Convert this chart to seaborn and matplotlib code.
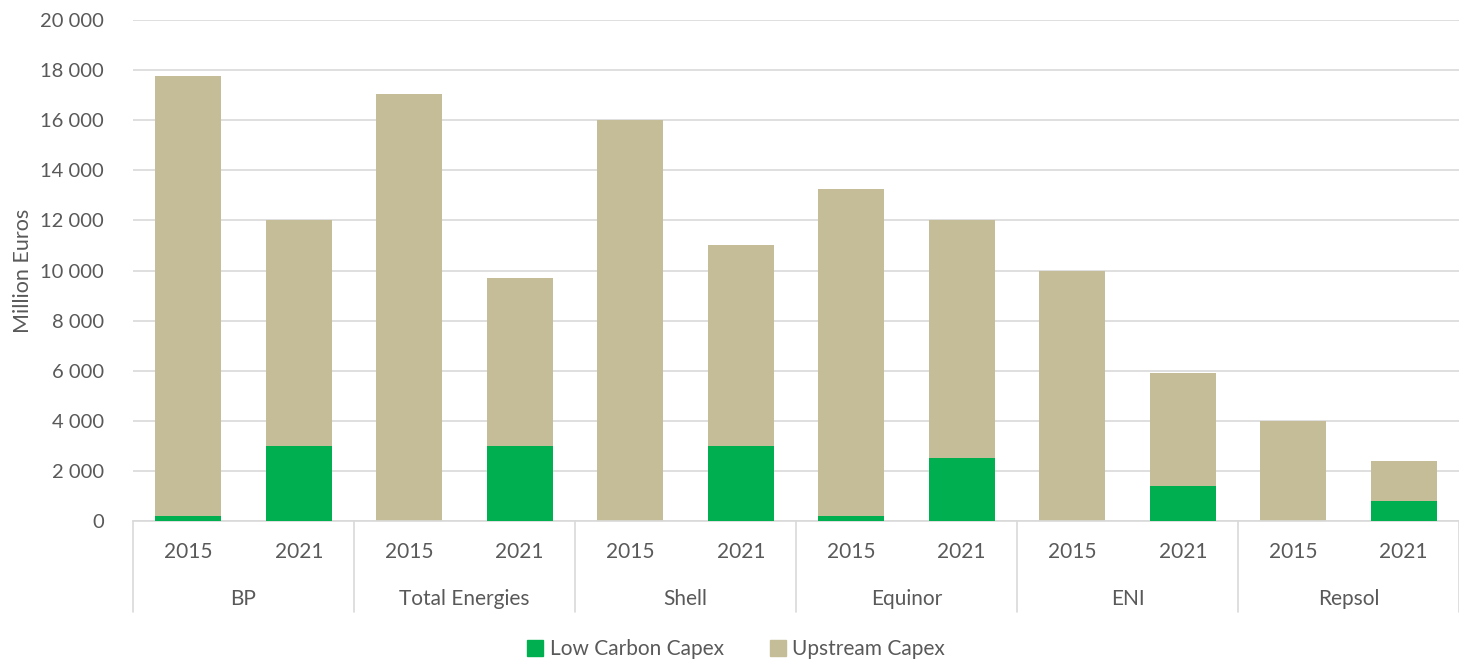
import numpy as np
import pandas as pd
import matplotlib.pyplot as plt
import matplotlib.transforms as mtransforms
from matplotlib.patches import Patch
from matplotlib.ticker import FuncFormatter
import seaborn as sns

companies = ["BP", "Total Energies", "Shell", "Equinor", "ENI", "Repsol"]
years = ["2015", "2021"]
low_carbon = [200, 3000, 0, 3000, 0, 3000, 200, 2500, 0, 1400, 0, 800]
upstream = [17550, 9000, 17050, 6700, 16000, 8000, 13050, 9500, 10000, 4500, 4000, 1600]

GREEN = "#00B050"
TAN = "#C4BD97"
TXT = "#595959"
GRID = "#D9D9D9"

sns.set_theme(style="white")
plt.rcParams["font.family"] = ["Lato", "DejaVu Sans"]

labels = [f"{c} {y}" for c in companies for y in years]
df = pd.DataFrame({
    "label": labels,
    "low": low_carbon,
    "total": np.array(low_carbon) + np.array(upstream),
})

fig = plt.figure(figsize=(14.59, 6.6), dpi=100)
ax = fig.add_axes([133 / 1459, 139 / 660, 1326 / 1459, 501 / 660])

sns.barplot(data=df, x="label", y="total", color=TAN, width=0.6,
            saturation=1, linewidth=0, ax=ax, zorder=2)
sns.barplot(data=df, x="label", y="low", color=GREEN, width=0.6,
            saturation=1, linewidth=0, ax=ax, zorder=3)

ax.set_ylim(0, 20000)
ax.set_xlim(-0.5, len(labels) - 0.5)
ax.set_yticks(range(0, 20001, 2000))
ax.yaxis.set_major_formatter(FuncFormatter(lambda v, p: f"{int(v):,}".replace(",", " ")))
ax.tick_params(axis="y", labelsize=14.5, labelcolor=TXT, length=0, pad=21)
ax.grid(axis="y", color=GRID, linewidth=1.2, zorder=0)
ax.set_axisbelow(True)
for s in ["top", "right", "left"]:
    ax.spines[s].set_visible(False)
ax.spines["bottom"].set_color(GRID)
ax.spines["bottom"].set_linewidth(1.2)
ax.set_xticks(range(len(labels)))
ax.set_xticklabels([])
ax.tick_params(axis="x", length=0)
ax.set_xlabel("")
ax.set_ylabel("Million Euros", fontsize=15.5, color=TXT, labelpad=5)

# two-level category axis
trans = mtransforms.blended_transform_factory(ax.transData, ax.transAxes)
sep_bottom = -91 / 501
for i, lab in enumerate(labels):
    ax.text(i, -31 / 501, lab.split()[-1], transform=trans, ha="center",
            va="center", fontsize=15, color=TXT)
for g, comp in enumerate(companies):
    ax.text(2 * g + 0.5, -78 / 501, comp, transform=trans, ha="center",
            va="center", fontsize=15, color=TXT)
for g in range(len(companies) + 1):
    ax.plot([2 * g - 0.5, 2 * g - 0.5], [0, sep_bottom], transform=trans,
            color=GRID, linewidth=1.2, clip_on=False)

handles = [Patch(color=GREEN, label="Low Carbon Capex"),
           Patch(color=TAN, label="Upstream Capex")]
fig.legend(handles=handles, loc="center", bbox_to_anchor=(736 / 1459, 1 - 649 / 660),
           ncol=2, frameon=False, fontsize=15, labelcolor=TXT,
           handlelength=0.8, handleheight=0.8, handletextpad=0.3, columnspacing=2.2)

fig.savefig("out.png", dpi=100)
